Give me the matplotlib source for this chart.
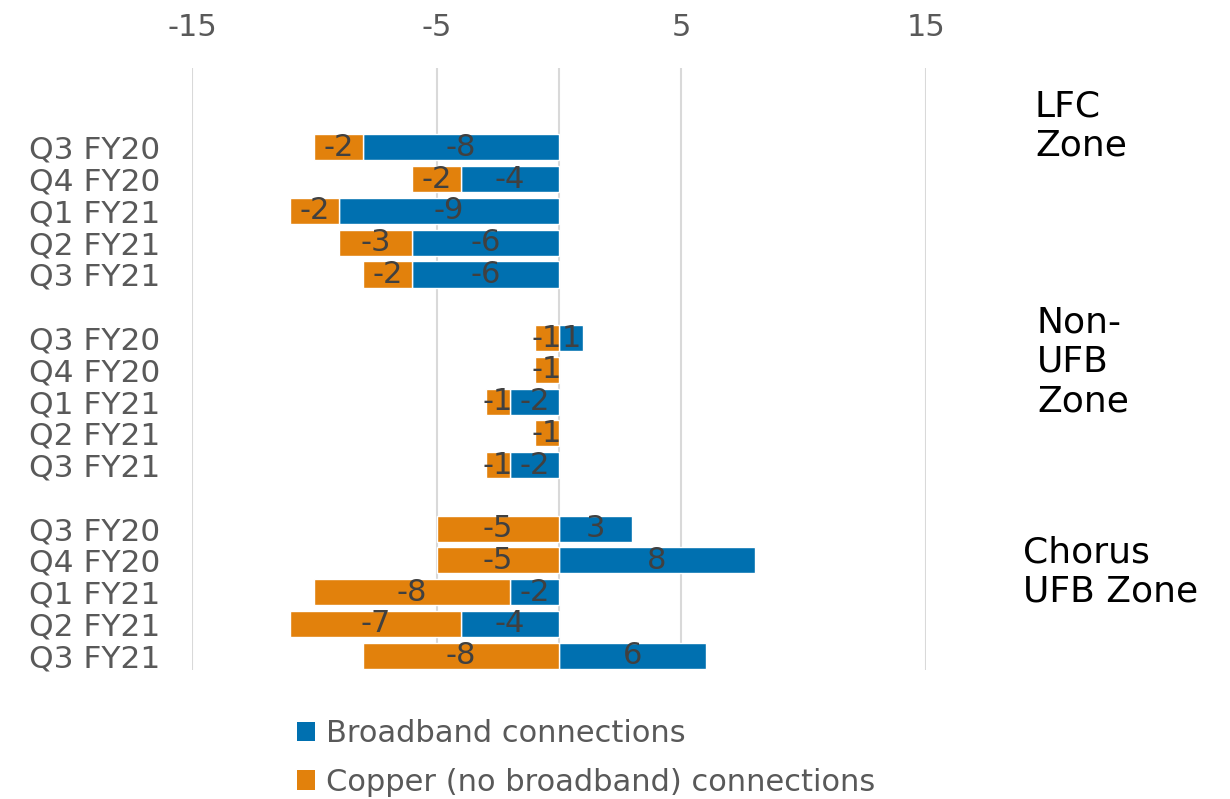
import numpy as np
import matplotlib
matplotlib.use('Agg')
import matplotlib.pyplot as plt
from matplotlib.patches import Patch

# quarters within each zone
quarters = ['Q3 FY20', 'Q4 FY20', 'Q1 FY21', 'Q2 FY21', 'Q3 FY21']
zones = ['LFC\nZone', 'Non-\nUFB\nZone', 'Chorus\nUFB Zone']

# change in connections, per zone
broadband_lfc = [-8, -4, -9, -6, -6]
copper_lfc = [-2, -2, -2, -3, -2]
broadband_non_ufb = [1, 0, -2, 0, -2]
copper_non_ufb = [-1, -1, -1, -1, -1]
broadband_chorus = [3, 8, -2, -4, 6]
copper_chorus = [-5, -5, -8, -7, -8]

BLUE = '#0070B0'
ORANGE = '#E2810C'
GRID = '#D9D9D9'
GREY = '#595959'
LABEL = '#404040'

plt.rcParams['font.family'] = ['DejaVu Sans']
plt.rcParams['axes.unicode_minus'] = False


def main():
    fig = plt.figure(figsize=(12.3, 7.99), dpi=100)
    ax = fig.add_axes([192 / 1230, 1 - 670 / 799, (926 - 192) / 1230, (670 - 68) / 799])

    bb = np.array(broadband_lfc + broadband_non_ufb + broadband_chorus, dtype=float)
    cu = np.array(copper_lfc + copper_non_ufb + copper_chorus, dtype=float)
    # one blank row between zones
    pos = np.array([0, 1, 2, 3, 4, 6, 7, 8, 9, 10, 12, 13, 14, 15, 16])
    labels = quarters * 3

    # negatives stack to the left, positives to the right
    same_sign = np.sign(bb) == np.sign(cu)
    cu_left = np.where(same_sign, bb, 0)

    h = 0.82
    ax.barh(pos, bb, height=h, color=BLUE, edgecolor='white', linewidth=1, zorder=3)
    ax.barh(pos, cu, left=cu_left, height=h, color=ORANGE, edgecolor='white', linewidth=1, zorder=3)

    for y, v in zip(pos, bb):
        if v != 0:
            ax.text(v / 2, y, '%d' % v, ha='center', va='center', fontsize=22, color=LABEL, zorder=4)
    for y, v, l in zip(pos, cu, cu_left):
        if v != 0:
            ax.text(l + v / 2, y, '%d' % v, ha='center', va='center', fontsize=22, color=LABEL, zorder=4)

    ax.set_xlim(-15, 15)
    ax.set_ylim(16.45, -2.5)
    ax.set_xticks([-15, -5, 5, 15])
    ax.xaxis.tick_top()
    ax.tick_params(axis='x', length=0, pad=19, labelsize=22, labelcolor=GREY)
    ax.set_yticks(pos)
    ax.set_yticklabels(labels)
    ax.tick_params(axis='y', length=0, pad=23, labelsize=22.5, labelcolor=GREY)
    ax.grid(axis='x', color=GRID, linewidth=1.5, zorder=0)
    ax.axvline(0, color=GRID, linewidth=1.5, zorder=0)
    ax.set_axisbelow(True)
    for s in ax.spines.values():
        s.set_visible(False)

    # zone labels to the right of the plot
    fig.text(1035 / 1230, 1 - 126 / 799, zones[0], fontsize=26, color='black', va='center', ha='left', linespacing=1.2)
    fig.text(1037 / 1230, 1 - 362 / 799, zones[1], fontsize=26, color='black', va='center', ha='left', linespacing=1.2)
    fig.text(1023 / 1230, 1 - 572 / 799, zones[2], fontsize=26, color='black', va='center', ha='left', linespacing=1.2)

    handles = [Patch(facecolor=BLUE, label='Broadband connections'),
               Patch(facecolor=ORANGE, label='Copper (no broadband) connections')]
    fig.legend(handles=handles, loc='upper left', bbox_to_anchor=(297 / 1230, 1 - 719 / 799),
               frameon=False, fontsize=22, labelcolor=GREY, handlelength=0.6, handleheight=0.6,
               handletextpad=0.35, labelspacing=0.65, borderpad=0, borderaxespad=0)

    fig.savefig('out.png', dpi=100)
    plt.close(fig)


if __name__ == '__main__':
    main()
